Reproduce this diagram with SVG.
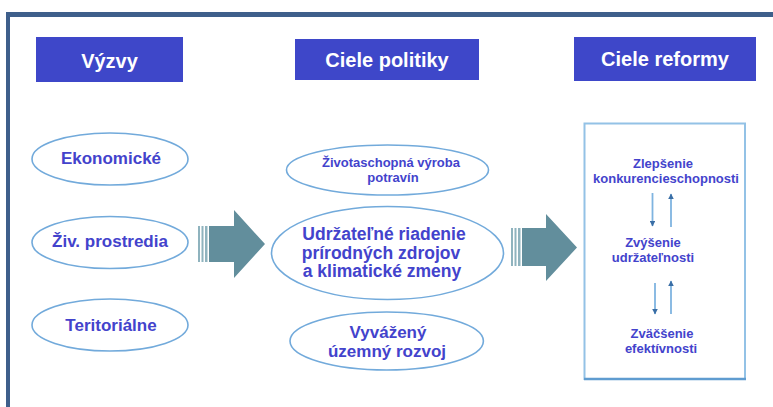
<svg xmlns="http://www.w3.org/2000/svg" width="773" height="407" viewBox="0 0 773 407">
<style>
.hdr{fill:#3e47c9}
.htxt{font-family:"Liberation Sans",Arial,sans-serif;font-weight:bold;font-size:20px;fill:#ffffff;text-anchor:middle}
.ell{fill:#ffffff;stroke:#72aadb;stroke-width:1.6}
.t{font-family:"Liberation Sans",Arial,sans-serif;font-weight:bold;fill:#4343cc;text-anchor:middle}
.big{fill:#628e9c}
.stripe{fill:#8fb3be}
.sm{stroke:#7fb4e0;stroke-width:1.8;fill:none;marker-end:url(#ah)}
</style>
<defs>
<marker id="ah" viewBox="0 0 10 10" refX="9" refY="5" markerWidth="3.2" markerHeight="3.2" orient="auto">
<path d="M0,0 L10,5 L0,10 z" fill="#3a6ea5"/>
</marker>
</defs>
<rect x="0" y="0" width="773" height="407" fill="#ffffff"/>
<g id="frame">
<rect x="6" y="12" width="767" height="5" fill="#3e5f8b"/>
<rect x="6" y="12" width="4" height="395" fill="#3e5f8b"/>
</g>
<g id="h1"><rect class="hdr" x="36" y="37" width="147" height="45"/><text class="htxt" x="109.5" y="68">Výzvy</text></g>
<g id="h2"><rect class="hdr" x="295" y="39" width="184" height="41"/><text class="htxt" x="387" y="67">Ciele politiky</text></g>
<g id="h3"><rect class="hdr" x="574" y="37" width="182" height="44"/><text class="htxt" x="665" y="66">Ciele reformy</text></g>

<g id="e1"><ellipse class="ell" cx="110" cy="159" rx="78" ry="26"/><text class="t" x="111" y="164" font-size="17">Ekonomické</text></g>
<g id="e2"><ellipse class="ell" cx="110" cy="242.5" rx="78" ry="26"/><text class="t" x="110" y="247" font-size="17">Živ. prostredia</text></g>
<g id="e3"><ellipse class="ell" cx="110" cy="325" rx="78" ry="26"/><text class="t" x="111" y="331" font-size="17">Teritoriálne</text></g>

<g id="m1"><ellipse class="ell" cx="387.5" cy="170" rx="101" ry="25"/>
<text class="t" x="391" y="167" font-size="13">Životaschopná výroba</text>
<text class="t" x="393" y="182" font-size="13">potravín</text></g>
<g id="m2"><ellipse class="ell" cx="387.5" cy="253" rx="116" ry="46.5"/>
<text class="t" x="384" y="240" font-size="17.5">Udržateľné riadenie</text>
<text class="t" x="381" y="258.5" font-size="17.5">prírodných zdrojov</text>
<text class="t" x="382" y="277" font-size="17.5">a klimatické zmeny</text></g>
<g id="m3"><ellipse class="ell" cx="386.7" cy="341" rx="96.7" ry="29"/>
<text class="t" x="388" y="338" font-size="17">Vyvážený</text>
<text class="t" x="387" y="357" font-size="17">územný rozvoj</text></g>

<g id="r">
<rect x="584.5" y="123.5" width="160.5" height="255.5" fill="#ffffff" stroke="#93c2e6" stroke-width="2"/>
<line x1="584" y1="379" x2="746" y2="379" stroke="#5f9cd0" stroke-width="2.5"/>
<text class="t" x="663" y="168" font-size="13">Zlepšenie</text>
<text class="t" x="666" y="183" font-size="13">konkurencieschopnosti</text>
<text class="t" x="653" y="247" font-size="13">Zvýšenie</text>
<text class="t" x="653" y="262" font-size="13">udržateľnosti</text>
<text class="t" x="662" y="338" font-size="13">Zväčšenie</text>
<text class="t" x="661" y="353" font-size="13">efektívnosti</text>
</g>

<g id="connectors">
<rect class="stripe" x="198" y="226" width="2" height="36"/>
<rect class="stripe" x="201.5" y="226" width="2" height="36"/>
<rect class="stripe" x="205" y="226" width="2.5" height="36"/>
<polygon class="big" points="209,226 234,226 234,210 265,244 234,278 234,262 209,262"/>
<rect class="stripe" x="511" y="228" width="2" height="38"/>
<rect class="stripe" x="514.5" y="228" width="2" height="38"/>
<rect class="stripe" x="518" y="228" width="2.5" height="38"/>
<polygon class="big" points="522,228 546,228 546,214 577,247.5 546,281 546,266 522,266"/>
<line class="sm" x1="652.5" y1="193" x2="652.5" y2="226"/>
<line class="sm" x1="671" y1="227" x2="671" y2="194"/>
<line class="sm" x1="655" y1="283" x2="655" y2="314"/>
<line class="sm" x1="671" y1="314" x2="671" y2="281"/>
</g>
</svg>
